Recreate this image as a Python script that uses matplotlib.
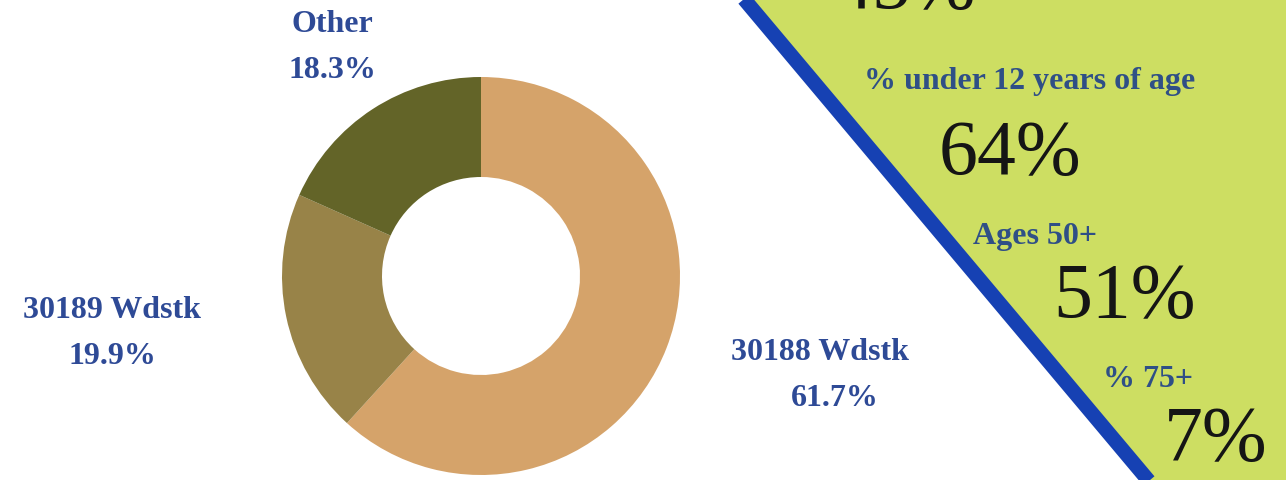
import matplotlib.pyplot as plt
from matplotlib.patches import Polygon

plt.rcParams['font.family'] = ['Liberation Serif', 'DejaVu Serif']

W, H = 1286, 481

# zip code split of the population
zones = ['30188 Wdstk', '30189 Wdstk', 'Other']
shares = [61.7, 19.9, 18.3]
ring_colors = ['#D5A36A', '#988348', '#636428']

# age figures shown in the green panel
stat_titles = ['% under 12 years of age', 'Ages 50+', '% 75+']
stat_values = [64, 51, 7]
top_value = 45

label_blue = '#2E4A96'

fig = plt.figure(figsize=(12.86, 4.81), dpi=100)
ax = fig.add_axes([0, 0, 1, 1])

# donut
ax.pie(shares, colors=ring_colors, startangle=90, counterclock=False,
       radius=199, center=(481, H - 277),
       wedgeprops=dict(width=100, linewidth=0))

# zone labels (x, y from top)
zone_pos = [(820, 353), (112, 311), (332, 25)]
for name, val, (x, y) in zip(zones, shares, zone_pos):
    ax.text(x, H - y, name, ha='center', va='center', fontsize=23,
            fontweight='bold', color=label_blue)
    ax.text(x + (15 if name.startswith('30188') else 0), H - y - 46,
            f'{val}%', ha='center', va='center', fontsize=23,
            fontweight='bold', color=label_blue)

# green panel with the blue diagonal edge
k = 0.84
x0 = 744
ya, yb = -20, H + 20
xa, xb = x0 + k * ya, x0 + k * yb
panel = Polygon([(xa, H - ya), (W + 10, H - ya), (W + 10, H - yb), (xb, H - yb)],
                closed=True, facecolor='#CDDE62', edgecolor='none')
ax.add_patch(panel)
ax.plot([xa, xb], [H - ya, H - yb], color='#1641B3', linewidth=10.5,
        solid_capstyle='butt')

# panel text
ax.text(905, H + 11, f'{top_value}%', ha='center', va='center', fontsize=56,
        color='#151515')
title_pos = [(1030, 82), (1035, 237), (1148, 380)]
value_pos = [(1010, 155), (1125, 298), (1216, 441)]
for t, v, (tx, ty), (vx, vy) in zip(stat_titles, stat_values, title_pos, value_pos):
    ax.text(tx, H - ty, t, ha='center', va='center', fontsize=23,
            fontweight='bold', color='#2F4F86')
    ax.text(vx, H - vy, f'{v}%', ha='center', va='center', fontsize=56,
            color='#151515')

ax.set_xlim(0, W)
ax.set_ylim(0, H)
ax.set_aspect('auto')
ax.axis('off')

fig.savefig('out.png', dpi=100, facecolor='white')
